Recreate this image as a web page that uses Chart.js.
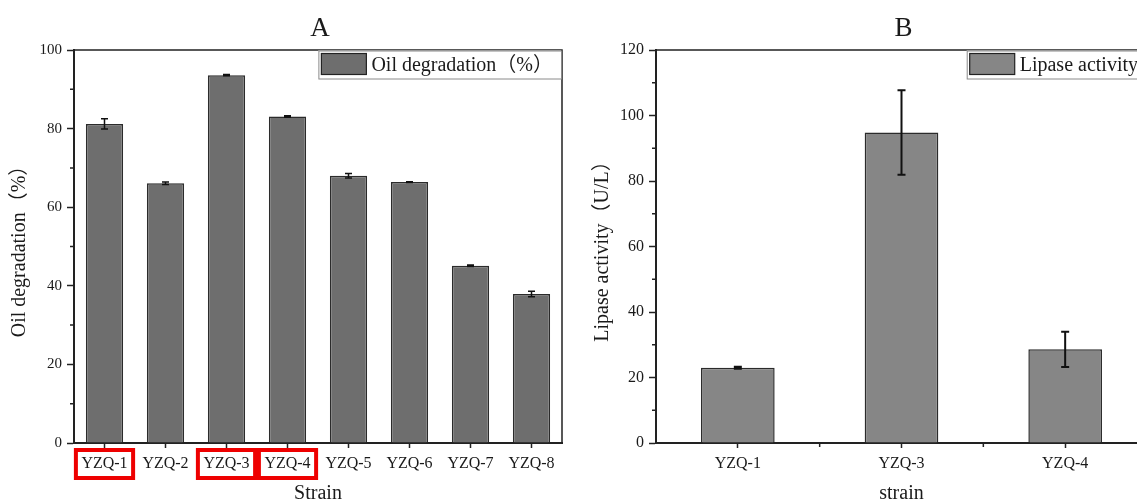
<!DOCTYPE html>
<html>
<head>
<meta charset="utf-8">
<script src="https://cdn.jsdelivr.net/npm/chart.js@4.4.1/dist/chart.umd.min.js"></script>
<style>
  html, body { margin: 0; padding: 0; background: #fff; overflow: hidden; }
  body { width: 1137px; height: 503px; position: relative; }
  canvas { position: absolute; top: 0; }
  #chartA { left: 0; }
  #chartB { left: 575px; }
</style>
</head>
<body>
<canvas id="chartA" width="580" height="503"></canvas>
<canvas id="chartB" width="590" height="503"></canvas>
<script>
// panel A - oil degradation by strain
const strainsA = ["YZQ-1", "YZQ-2", "YZQ-3", "YZQ-4", "YZQ-5", "YZQ-6", "YZQ-7", "YZQ-8"];
const oilDegradation = [81.2, 66.1, 93.6, 83.1, 68.0, 66.4, 45.1, 37.9];
const oilDegradationErr = [1.3, 0.3, 0.15, 0.2, 0.6, 0.1, 0.2, 0.7];
const highlightedStrains = ["YZQ-1", "YZQ-3", "YZQ-4"];

// panel B - lipase activity
const strainsB = ["YZQ-1", "YZQ-3", "YZQ-4"];
const lipaseActivity = [23.0, 94.8, 28.6];
const lipaseActivityErr = [0.3, 12.9, 5.4];

const SERIF = '"Liberation Serif", "Times New Roman", "Noto Sans CJK SC", serif';
const INK = "#1a1a1a";

const panelPlugin = {
  id: "panel",
  afterDatasetsDraw(chart, args, opts) {
    const ctx = chart.ctx;
    const y = chart.scales.y;
    chart.data.datasets.forEach((ds, di) => {
      const meta = chart.getDatasetMeta(di);
      meta.data.forEach((bar, i) => {
        const v = ds.data[i];
        const e = ds.errors[i];
        const top = y.getPixelForValue(v + e);
        const bot = y.getPixelForValue(v - e);
        ctx.save();
        ctx.strokeStyle = "#111";
        ctx.lineWidth = opts.errWidth;
        ctx.beginPath();
        ctx.moveTo(bar.x, top);
        ctx.lineTo(bar.x, bot);
        ctx.moveTo(bar.x - opts.cap, top);
        ctx.lineTo(bar.x + opts.cap, top);
        ctx.moveTo(bar.x - opts.cap, bot);
        ctx.lineTo(bar.x + opts.cap, bot);
        ctx.stroke();
        ctx.restore();
      });
    });
  },
  afterDraw(chart, args, opts) {
    const ctx = chart.ctx;
    const ca = chart.chartArea;
    const x = chart.scales.x;
    const y = chart.scales.y;
    ctx.save();

    // top and right frame lines
    ctx.strokeStyle = "#222";
    ctx.lineWidth = 1.5;
    ctx.beginPath();
    ctx.moveTo(ca.left, ca.top);
    ctx.lineTo(ca.right, ca.top);
    ctx.lineTo(ca.right, ca.bottom);
    ctx.stroke();

    // minor ticks
    ctx.lineWidth = 1.5;
    ctx.beginPath();
    const step = y.options.ticks.stepSize;
    for (let v = step / 2; v < y.max; v += step) {
      const yp = y.getPixelForValue(v);
      ctx.moveTo(ca.left - 4, yp);
      ctx.lineTo(ca.left, yp);
    }
    if (opts.minorX) {
      for (let i = 0; i < chart.data.labels.length; i++) {
        const xp = x.getPixelForValue(i + 0.5);
        ctx.moveTo(xp, ca.bottom);
        ctx.lineTo(xp, ca.bottom + 4);
      }
    }
    ctx.stroke();

    // legend box
    const ds = chart.data.datasets[0];
    ctx.font = "20px " + SERIF;
    const tw = ctx.measureText(ds.label).width;
    const boxH = 28, sw = 45, swH = 21;
    const boxW = 3 + sw + 5 + tw + 8;
    const bx = ca.right - 1 - boxW;
    const by = ca.top + 0.5;
    ctx.fillStyle = "#fff";
    ctx.fillRect(bx, by, boxW, boxH);
    ctx.strokeStyle = "#8a8a8a";
    ctx.lineWidth = 1;
    ctx.strokeRect(bx + 0.5, by + 0.5, boxW, boxH);
    ctx.fillStyle = ds.backgroundColor;
    ctx.fillRect(bx + 3, by + 3, sw, swH);
    ctx.strokeStyle = "#222";
    ctx.lineWidth = 1.2;
    ctx.strokeRect(bx + 3, by + 3, sw, swH);
    ctx.fillStyle = INK;
    ctx.textBaseline = "middle";
    ctx.textAlign = "left";
    ctx.fillText(ds.label, bx + 3 + sw + 5, by + boxH / 2 + 1);

    // panel letter
    ctx.font = "27px " + SERIF;
    ctx.textAlign = "center";
    ctx.textBaseline = "alphabetic";
    ctx.fillText(opts.title, (ca.left + ca.right) / 2 + 2, 36);

    // red boxes round chosen strain labels
    if (opts.highlight) {
      ctx.font = "16px " + SERIF;
      ctx.strokeStyle = "#ee0000";
      ctx.lineWidth = 4;
      opts.highlight.forEach((name) => {
        const i = chart.data.labels.indexOf(name);
        const cx = x.getPixelForValue(i);
        const w = ctx.measureText(name).width + 11;
        ctx.strokeRect(cx - w / 2, ca.bottom + 7, w, 28);
      });
    }
    ctx.restore();
  },
};

function buildPanel(id, labels, values, errs, cfg) {
  return new Chart(document.getElementById(id), {
    type: "bar",
    data: {
      labels: labels,
      datasets: [
        {
          label: cfg.legend,
          data: values,
          errors: errs,
          backgroundColor: cfg.fill,
          borderColor: "#2b2b2b",
          borderWidth: 1.5,
          barPercentage: cfg.barPct,
          categoryPercentage: 1.0,
        },
      ],
    },
    options: {
      responsive: false,
      animation: false,
      devicePixelRatio: 1,
      layout: { padding: { top: 50, right: 18, bottom: 0, left: 0 } },
      plugins: {
        legend: { display: false },
        tooltip: { enabled: false },
        panel: cfg.panel,
      },
      scales: {
        x: {
          type: "category",
          offset: true,
          grid: { display: true, drawOnChartArea: false, offset: false, tickLength: 5, tickColor: "#222", tickWidth: 1.5 },
          border: { display: true, color: "#222", width: 2 },
          ticks: { color: INK, font: { family: SERIF, size: cfg.xTickSize }, padding: 6, maxRotation: 0, autoSkip: false },
          title: { display: true, text: cfg.xTitle, color: INK, font: { family: SERIF, size: 20 }, padding: { top: 0, bottom: -3 } },
          afterFit(s) { s.height = 60; },
        },
        y: {
          min: 0,
          max: cfg.yMax,
          grid: { display: true, drawOnChartArea: false, tickLength: 7, tickColor: "#222", tickWidth: 1.5 },
          border: { display: true, color: "#222", width: 2 },
          ticks: { stepSize: 20, color: INK, font: { family: SERIF, size: cfg.yTickSize }, padding: 5 },
          title: { display: true, text: cfg.yTitle, color: INK, font: { family: SERIF, size: 20 }, padding: { top: cfg.yTitlePad, bottom: 0 } },
          afterFit(s) { s.width = cfg.yWidth; },
        },
      },
    },
    plugins: [panelPlugin],
  });
}

buildPanel("chartA", strainsA, oilDegradation, oilDegradationErr, {
  legend: "Oil degradation（%）",
  fill: "#6e6e6e",
  barPct: 0.61,
  xTitle: "Strain",
  yTitle: "Oil degradation（%）",
  yMax: 100,
  xTickSize: 16,
  yTickSize: 15,
  yWidth: 74,
  yTitlePad: 8,
  panel: { title: "A", cap: 3.5, errWidth: 1.5, minorX: false, highlight: highlightedStrains },
});

buildPanel("chartB", strainsB, lipaseActivity, lipaseActivityErr, {
  legend: "Lipase activity",
  fill: "#868686",
  barPct: 0.45,
  xTitle: "strain",
  yTitle: "Lipase activity（U/L）",
  yMax: 120,
  xTickSize: 16,
  yTickSize: 16,
  yWidth: 81,
  yTitlePad: 16,
  panel: { title: "B", cap: 4, errWidth: 2, minorX: true, highlight: null },
});
</script>
</body>
</html>
